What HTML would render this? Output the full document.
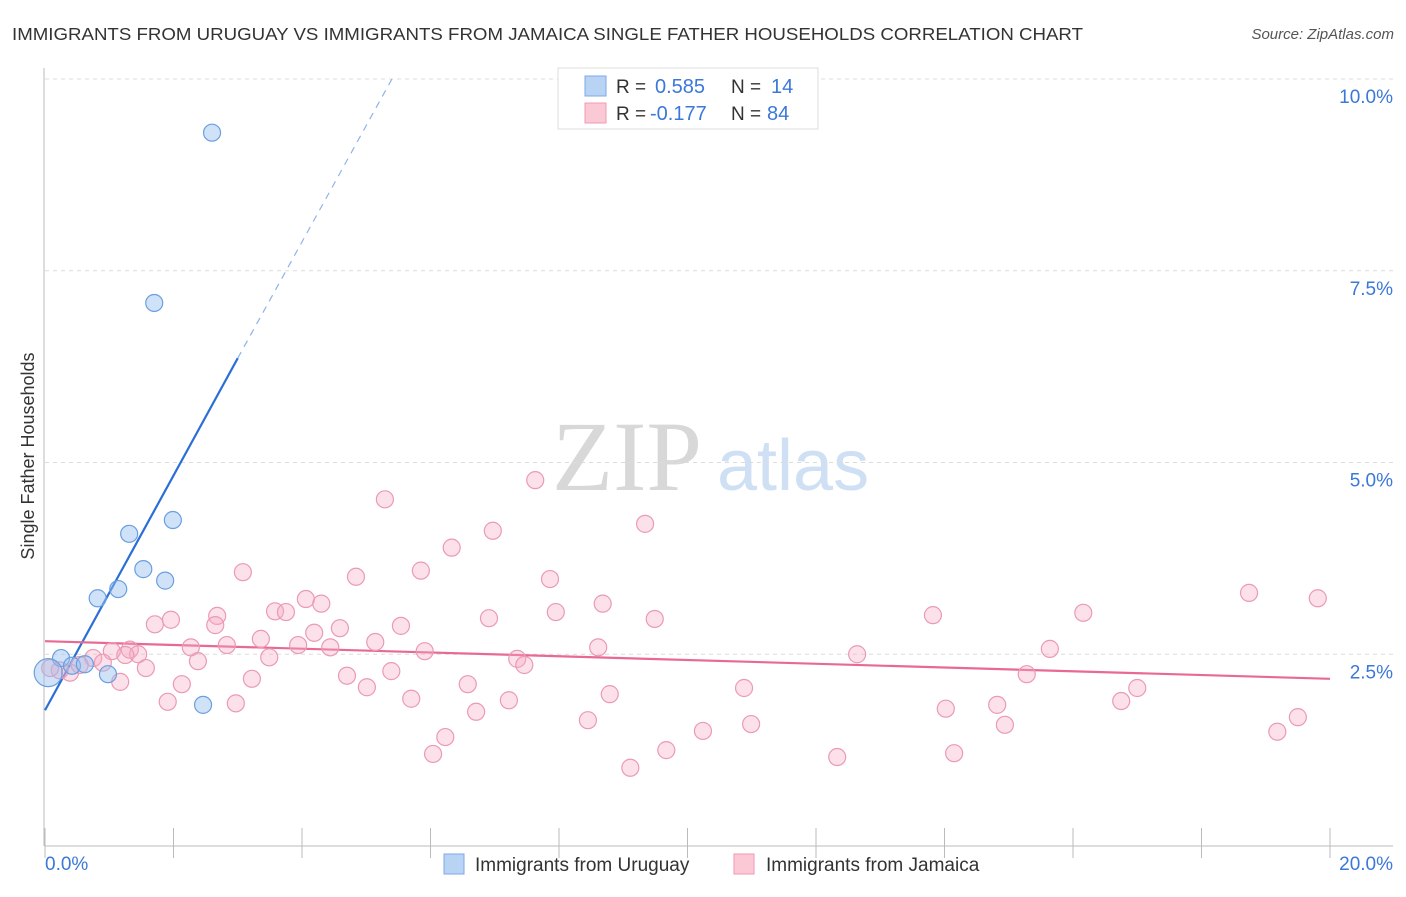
<!DOCTYPE html>
<html><head><meta charset="utf-8"><style>
body{margin:0;background:#fff;font-family:"Liberation Sans",sans-serif;}
</style></head><body>
<svg id="chart" width="1406" height="892" xmlns="http://www.w3.org/2000/svg" font-family="Liberation Sans, sans-serif">
<text x="12" y="40" font-size="17.5" fill="#333" textLength="1071" lengthAdjust="spacingAndGlyphs">IMMIGRANTS FROM URUGUAY VS IMMIGRANTS FROM JAMAICA SINGLE FATHER HOUSEHOLDS CORRELATION CHART</text>
<text x="1394" y="39" font-size="15" fill="#555" font-style="italic" text-anchor="end">Source: ZipAtlas.com</text>
<text transform="translate(34,456) rotate(-90)" font-size="18" fill="#333" text-anchor="middle">Single Father Households</text>
<g>
<text x="552" y="490" font-size="100" style="font-family:'Liberation Serif',serif" fill="#d8d8d8">ZIP</text>
<text x="717" y="490" font-size="72" fill="#cfe0f4">atlas</text>
</g>
<g id="grid"></g>
<g id="axes"></g>
<g id="lines"></g>
<g id="points"></g>
<g>
<rect x="558" y="68" width="260" height="61" fill="#fff" stroke="#ddd"/>
<rect x="585" y="76" width="21" height="20" fill="#b9d3f5" stroke="#7eaae6"/>
<rect x="585" y="103" width="21" height="20" fill="#fbc8d6" stroke="#ef9bb4"/>
<text x="616" y="93" font-size="19" fill="#333">R =</text>
<text x="655" y="93" font-size="20" fill="#3b78d8">0.585</text>
<text x="731" y="93" font-size="19" fill="#333">N =</text>
<text x="771" y="93" font-size="20" fill="#3b78d8">14</text>
<text x="616" y="120" font-size="19" fill="#333">R =</text>
<text x="650" y="120" font-size="20" fill="#3b78d8">-0.177</text>
<text x="731" y="120" font-size="19" fill="#333">N =</text>
<text x="767" y="120" font-size="20" fill="#3b78d8">84</text>
</g>
<g>
<rect x="444" y="854" width="20" height="20" fill="#b9d3f5" stroke="#7eaae6"/>
<text x="475" y="871" font-size="19" fill="#333">Immigrants from Uruguay</text>
<rect x="734" y="854" width="20" height="20" fill="#fbc8d6" stroke="#ef9bb4"/>
<text x="766" y="871" font-size="19" fill="#333">Immigrants from Jamaica</text>
</g>
</svg>
<script>
const xTicks=[0,2,4,6,8,10,12,14,16,18,20];
const yTickVals=[2.5,5,7.5,10];
const yTickLabels=["2.5%","5.0%","7.5%","10.0%"];
const xEndLabels=["0.0%","20.0%"];
const uruguayX=[2.60,1.70,1.99,1.31,1.53,1.87,0.82,1.14,0.25,0.42,0.62,0.98,2.46,0.05];
const uruguayY=[9.30,7.08,4.25,4.07,3.61,3.46,3.23,3.35,2.45,2.35,2.37,2.24,1.84,2.26];
const jamaicaX=[5.29,7.63,9.34,6.97,6.33,3.08,4.84,5.85,7.86,4.06,3.58,3.75,4.30,2.68,1.96,1.71,7.95,8.68,6.91,9.49,5.54,4.59,4.19,3.36,5.14,2.83,2.27,3.94,4.44,8.61,1.32,1.45,1.04,0.75,3.49,2.38,5.91,7.35,7.46,1.57,0.90,0.23,0.39,1.17,2.13,4.70,3.22,5.39,5.01,6.58,8.79,5.70,7.22,1.91,2.97,6.71,8.45,6.23,6.04,9.67,9.11,10.24,10.99,10.88,12.64,13.82,14.02,14.15,12.33,14.82,14.94,15.64,15.28,16.16,17.00,16.75,18.74,19.81,19.50,19.18,0.08,0.54,1.25,2.65];
const jamaicaY=[4.52,4.77,4.20,4.11,3.89,3.57,3.51,3.59,3.48,3.22,3.06,3.05,3.16,3.00,2.95,2.89,3.05,3.16,2.97,2.96,2.87,2.84,2.78,2.70,2.66,2.62,2.59,2.62,2.59,2.59,2.56,2.50,2.54,2.45,2.46,2.41,2.54,2.44,2.36,2.32,2.39,2.29,2.26,2.14,2.11,2.22,2.18,2.28,2.07,2.11,1.98,1.92,1.90,1.88,1.86,1.75,1.64,1.42,1.20,1.25,1.02,1.50,1.59,2.06,2.50,3.01,1.79,1.21,1.16,1.84,1.58,2.57,2.24,3.04,2.06,1.89,3.30,3.23,1.68,1.49,2.32,2.36,2.49,2.88];
const uruguayTrend=[[0,1.77],[3.0,6.36]];
const uruguayTrendDash=[[3.0,6.36],[5.4,10.0]];
const jamaicaTrend=[[0,2.67],[20,2.18]];

const NS="http://www.w3.org/2000/svg";
const X0=45,X1=1330,YB=846,YT=79;
const sx=v=>X0+(v-0)/20*(X1-X0);
const sy=v=>YB-v/10*(YB-YT);
function mk(tag,attrs,parent){const e=document.createElementNS(NS,tag);for(const k in attrs)e.setAttribute(k,attrs[k]);document.getElementById(parent).appendChild(e);return e;}

yTickVals.forEach((v,i)=>{
  const l=mk('line',{x1:X0,x2:1393,y1:sy(v),y2:sy(v),stroke:'#dcdcdc','stroke-dasharray':'4,4'},'grid');
  
  
  const t=mk('text',{x:1393,y:sy(v)+24,'font-size':19,fill:'#3b78d8','text-anchor':'end'},'grid');
  t.textContent=yTickLabels[i];
  
  
});
const ya=mk('line',{x1:44,x2:44,y1:68,y2:YB,stroke:'#bbb'},'axes');


const xa=mk('line',{x1:X0,x2:1393,y1:YB,y2:YB,stroke:'#bbb'},'axes');


xTicks.forEach(v=>{
  const t=mk('line',{x1:sx(v),x2:sx(v),y1:828,y2:858,stroke:'#bbb'},'axes');
  
  
});
const xl0=mk('text',{x:45,y:870,'font-size':19,fill:'#3b78d8'},'axes');xl0.textContent=xEndLabels[0];


const xl1=mk('text',{x:1393,y:870,'font-size':19,fill:'#3b78d8','text-anchor':'end'},'axes');xl1.textContent=xEndLabels[1];



jamaicaX.forEach((x,i)=>{
  const c=mk('circle',{cx:sx(x),cy:sy(jamaicaY[i]),r:8.5,fill:'rgba(246,170,196,0.35)',stroke:'#eb9ab4','stroke-width':1.2},'points');
  
  
});
uruguayX.forEach((x,i)=>{
  const c=mk('circle',{cx:sx(x),cy:sy(uruguayY[i]),r:(i===13?14:8.5),fill:'rgba(150,190,240,0.45)',stroke:'#6a9fe0','stroke-width':1.2},'points');
  
  
});
const l1=mk('line',{x1:sx(uruguayTrend[0][0]),y1:sy(uruguayTrend[0][1]),x2:sx(uruguayTrend[1][0]),y2:sy(uruguayTrend[1][1]),stroke:'#2b6fd6','stroke-width':2.2},'lines');


const l2=mk('line',{x1:sx(uruguayTrendDash[0][0]),y1:sy(uruguayTrendDash[0][1]),x2:sx(uruguayTrendDash[1][0]),y2:sy(uruguayTrendDash[1][1]),stroke:'#8fb3e8','stroke-width':1.2,'stroke-dasharray':'7,6'},'lines');


const l3=mk('line',{x1:sx(jamaicaTrend[0][0]),y1:sy(jamaicaTrend[0][1]),x2:sx(jamaicaTrend[1][0]),y2:sy(jamaicaTrend[1][1]),stroke:'#e86a93','stroke-width':2.2},'lines');


</script>
</body></html>
